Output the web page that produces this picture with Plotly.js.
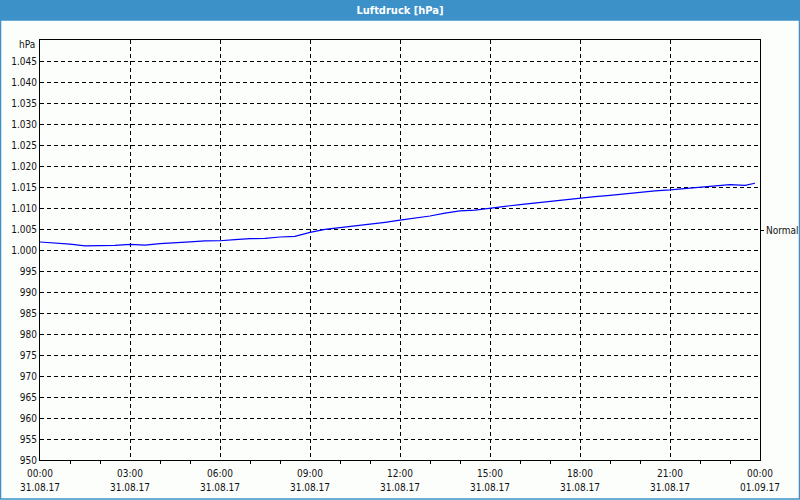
<!DOCTYPE html>
<html>
<head>
<meta charset="utf-8">
<script src="https://cdn.plot.ly/plotly-3.0.1.min.js"></script>
<style>
html,body{margin:0;padding:0;background:#fcfefc;}
#chart{width:800px;height:500px;}
</style>
</head>
<body>
<div id="chart"></div>
<script>
// ---- data ----
const times = [
  "2017-08-31 00:00","2017-08-31 00:30","2017-08-31 01:00","2017-08-31 01:30",
  "2017-08-31 02:00","2017-08-31 02:30","2017-08-31 03:00","2017-08-31 03:30",
  "2017-08-31 04:00","2017-08-31 04:30","2017-08-31 05:00","2017-08-31 05:30",
  "2017-08-31 06:00","2017-08-31 06:30","2017-08-31 07:00","2017-08-31 07:30",
  "2017-08-31 08:00","2017-08-31 08:30","2017-08-31 09:00","2017-08-31 09:30",
  "2017-08-31 10:00","2017-08-31 10:30","2017-08-31 11:00","2017-08-31 11:30",
  "2017-08-31 12:00","2017-08-31 12:30","2017-08-31 13:00","2017-08-31 13:30",
  "2017-08-31 14:00","2017-08-31 14:30","2017-08-31 15:00","2017-08-31 15:30",
  "2017-08-31 16:00","2017-08-31 16:30","2017-08-31 17:00","2017-08-31 17:30",
  "2017-08-31 18:00","2017-08-31 18:30","2017-08-31 19:00","2017-08-31 19:30",
  "2017-08-31 20:00","2017-08-31 20:30","2017-08-31 21:00","2017-08-31 21:30",
  "2017-08-31 22:00","2017-08-31 22:30","2017-08-31 23:00","2017-08-31 23:30",
  "2017-08-31 23:50"
];
const pressure = [
  1001.9, 1001.7, 1001.4, 1001.0,
  1001.0, 1001.1, 1001.35, 1001.15,
  1001.5, 1001.8, 1001.95, 1002.15,
  1002.2, 1002.45, 1002.7, 1002.75,
  1003.1, 1003.25, 1004.2, 1004.9,
  1005.3, 1005.7, 1006.2, 1006.6,
  1007.1, 1007.6, 1008.1, 1008.8,
  1009.3, 1009.5, 1010.0, 1010.4,
  1010.8, 1011.2, 1011.6, 1012.0,
  1012.3, 1012.7, 1013.0, 1013.4,
  1013.8, 1014.1, 1014.3, 1014.6,
  1015.0, 1015.3, 1015.55, 1015.4,
  1015.9
];
const normalValue = 1004.6;
const normalLabel = "Normal";
const unitLabel = "hPa";
const chartTitle = "Luftdruck [hPa]";
const xRange = ["2017-08-31 00:00", "2017-09-01 00:00"];
const yRange = [950, 1050];
const yTickVals = [950,955,960,965,970,975,980,985,990,995,1000,1005,1010,1015,1020,1025,1030,1035,1040,1045];
const yTickText = ["950","955","960","965","970","975","980","985","990","995",
  "1.000","1.005","1.010","1.015","1.020","1.025","1.030","1.035","1.040","1.045"];

// ---- layout helpers ----
const W = 800, H = 500, ML = 40, MR = 40, MT = 40, MB = 40;
const PW = W - ML - MR, PH = H - MT - MB;
const px = x => (x - ML) / PW;
const py = y => (H - MB - y) / PH;
const FONT = "'DejaVu Sans Condensed', 'Liberation Sans', Arial, sans-serif";
const BLUE = "#3c91c8";
const TXT = "#111111";

const traces = [
  {
    type: "scatter", mode: "lines",
    x: times, y: pressure,
    xaxis: "x", yaxis: "y",
    line: {color: "#0000ff", width: 1.2},
    hoverinfo: "x+y", showlegend: false
  },
  {
    type: "scatter", mode: "lines",
    x: [], y: [],
    xaxis: "x2", yaxis: "y2",
    showlegend: false, hoverinfo: "skip"
  }
];

const layout = {
  width: W, height: H,
  margin: {l: ML, r: MR, t: MT, b: MB, pad: 0},
  paper_bgcolor: "#fcfefc",
  plot_bgcolor: "#fcfefc",
  showlegend: false,
  font: {family: FONT, size: 10, color: TXT},
  title: {
    text: "<b>" + chartTitle + "</b>",
    font: {family: FONT, size: 11, color: "#ffffff"},
    x: 0.5, xref: "container", xanchor: "center",
    y: 1 - 10 / H, yref: "container", yanchor: "middle"
  },
  xaxis: {
    type: "date",
    range: xRange,
    tickmode: "linear", tick0: xRange[0], dtick: 3 * 3600000,
    tickformat: "%H:%M",
    ticks: "",
    ticklabelstandoff: 4,
    showgrid: true, gridcolor: "#000000", gridwidth: 1, griddash: "4px,3px",
    minor: {tickmode: "linear", tick0: xRange[0], dtick: 3600000, ticks: "outside", ticklen: 3, tickcolor: "#000000", showgrid: false},
    showline: true, linecolor: "#000000", linewidth: 1, mirror: true,
    zeroline: false, fixedrange: true,
    tickfont: {family: FONT, size: 10, color: TXT}
  },
  xaxis2: {
    type: "date",
    overlaying: "x", side: "bottom", anchor: "y",
    range: xRange,
    tickmode: "linear", tick0: xRange[0], dtick: 3 * 3600000,
    tickformat: "%d.%m.%y",
    ticks: "",
    ticklabelstandoff: 20,
    showgrid: false, showline: false, zeroline: false, fixedrange: true,
    tickfont: {family: FONT, size: 10, color: TXT}
  },
  yaxis: {
    range: yRange,
    tickmode: "array", tickvals: yTickVals, ticktext: yTickText,
    ticks: "",
    showgrid: true, gridcolor: "#000000", gridwidth: 1, griddash: "4px,3px",
    showline: true, linecolor: "#000000", linewidth: 1, mirror: true,
    zeroline: false, fixedrange: true,
    tickfont: {family: FONT, size: 10, color: TXT}
  },
  yaxis2: {
    overlaying: "y", side: "right", anchor: "x",
    range: yRange,
    tickmode: "array", tickvals: [normalValue], ticktext: [normalLabel],
    ticks: "outside", ticklen: 3, tickcolor: "#000000",
    showgrid: false, showline: false, zeroline: false, fixedrange: true,
    tickfont: {family: FONT, size: 10, color: TXT}
  },
  shapes: [
    {type: "rect", xref: "paper", yref: "paper", layer: "below",
     x0: px(0), x1: px(W), y0: py(20), y1: py(0),
     fillcolor: BLUE, line: {width: 0}},
    {type: "rect", xref: "paper", yref: "paper", layer: "above",
     x0: px(0.5), x1: px(W - 0.5), y0: py(H - 1), y1: py(20),
     fillcolor: "rgba(0,0,0,0)", line: {color: BLUE, width: 1.5}}
  ],
  annotations: [
    {text: unitLabel, xref: "paper", yref: "paper",
     x: px(37), y: py(45), xanchor: "right", yanchor: "middle",
     showarrow: false, font: {family: FONT, size: 10, color: TXT}}
  ]
};

Plotly.newPlot("chart", traces, layout, {displayModeBar: false, staticPlot: true});
</script>
</body>
</html>
